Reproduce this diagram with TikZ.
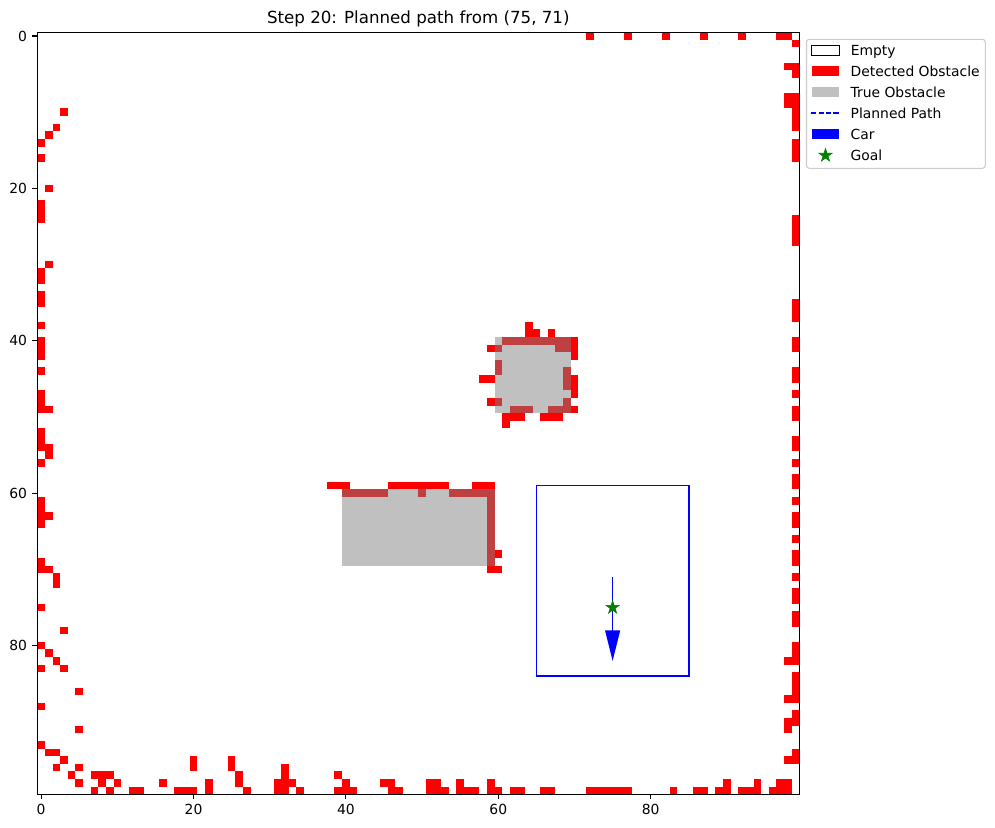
\documentclass[tikz,border=0pt]{standalone}
\usepackage{fontspec}
\setmainfont{DejaVu Sans}
\usepackage{tikz}
\usetikzlibrary{positioning,shapes.geometric}
\definecolor{detected}{HTML}{FF0000}
\definecolor{overlap}{HTML}{BF4040}
\definecolor{trueobs}{HTML}{C0C0C0}
\definecolor{carblue}{HTML}{0000FF}
\definecolor{goalgreen}{HTML}{008000}
\definecolor{legframe}{HTML}{CCCCCC}

\begin{document}
\begin{tikzpicture}[x=0.72pt, y=-0.72pt,
  ticklabel/.style={font=\fontsize{10}{12}\selectfont, inner sep=0pt},
  leg/.style={font=\fontsize{10}{12}\selectfont, inner sep=0pt, text height=7.3pt, text depth=0pt},
  handle/.style={minimum width=20pt, minimum height=7pt, inner sep=0pt},
  goalstar/.style={star, star points=5, star point ratio=2.618, fill=goalgreen,
    draw=goalgreen, inner sep=0pt, minimum size=10pt}]
  \useasboundingbox (0,0) rectangle (995,827);

  % Grid, one unit per cell
  \begin{scope}[shift={(29.6pt,-25.93pt)}, x=5.4864pt, y=-5.4864pt]
    % True obstacles
    \fill[trueobs] (59.5,39.5) rectangle (69.5,49.5);
    \fill[trueobs] (39.5,59.5) rectangle (59.5,69.5);

    % Detected obstacles, left and bottom border
    \foreach \c/\r in {3/10,2/12,1/13,0/14,0/16,1/20,0/22,0/23,0/24,1/30,0/31,0/32,
        0/34,0/35,0/38,0/40,0/41,0/42,0/44,0/47,0/48,0/49,1/49,0/52,0/53,0/54,1/54,
        1/55,0/56,0/61,0/62,0/63,1/63,0/64,0/69,0/70,1/70,2/71,2/72,0/75,3/78,0/80,
        1/81,2/82,0/83,3/83,5/86,0/88,5/91,0/93,1/94,2/94,3/95,2/96,5/96,4/97,7/97,
        8/97,9/97,5/98,8/98,10/98,7/99,9/99,12/99,13/99,16/98,18/99,19/99,20/99,
        20/95,20/96,22/98,22/99,25/95,25/96,26/97,26/98,27/99,32/96,32/97,31/98,
        32/98,33/98,31/99,32/99,34/99,39/97,40/98,39/99,40/99,41/99,45/98,46/98,
        46/99,47/99,51/98,52/98,51/99,52/99,53/99,55/98,55/99,56/99,57/99,59/98,
        59/99,60/99,62/99,63/99,66/99,67/99,72/99,73/99,74/99,75/99,76/99,77/99,
        83/99,86/99,87/99,89/99,90/99,90/98,92/99,93/99,94/99,94/98,96/99,97/99,
        98/99,97/98,98/98}
      \fill[detected] (\c-0.5,\r-0.5) rectangle ++(1,1);

    % Detected obstacles, right and top border
    \foreach \c/\r in {98/95,99/95,99/94,99/89,99/90,98/90,98/91,99/84,99/85,99/86,
        99/87,98/87,99/80,99/81,99/82,98/82,99/76,99/77,99/73,99/74,99/71,99/68,
        99/69,99/66,99/63,99/64,99/61,99/58,99/59,99/56,99/53,99/54,99/49,99/50,
        99/47,99/44,99/45,99/40,99/41,99/35,99/36,99/37,99/24,99/25,99/26,99/27,
        99/14,99/15,99/16,99/8,99/9,99/10,99/11,99/12,98/8,98/9,98/4,99/4,99/5,
        99/1,97/0,98/0,72/0,77/0,82/0,87/0,92/0}
      \fill[detected] (\c-0.5,\r-0.5) rectangle ++(1,1);

    % Detected obstacles around the blocks
    \foreach \c/\r in {64/38,64/39,65/39,67/39,70/40,70/41,70/42,59/41,58/45,59/45,
        70/45,70/46,70/47,59/48,70/49,61/50,62/50,63/50,66/50,67/50,68/50,61/51,
        38/59,39/59,40/59,46/59,47/59,48/59,49/59,50/59,51/59,52/59,53/59,57/59,
        58/59,59/59,60/68,59/70,60/70}
      \fill[detected] (\c-0.5,\r-0.5) rectangle ++(1,1);

    % Detected cells on true obstacles
    \foreach \c/\r in {61/40,62/40,63/40,64/40,65/40,66/40,67/40,68/40,69/40,60/41,
        68/41,69/41,60/43,60/44,69/44,69/45,69/46,60/48,69/48,62/49,63/49,64/49,
        67/49,68/49,69/49,40/60,41/60,42/60,43/60,44/60,45/60,50/60,54/60,55/60,
        56/60,57/60,58/60,59/60,59/61,59/62,59/63,59/64,59/65,59/66,59/67,59/68,59/69}
      \fill[overlap] (\c-0.5,\r-0.5) rectangle ++(1,1);

    % Planned region
    \draw[carblue, line width=1pt] (65,59) rectangle (85,84);

    % Car
    \draw[carblue, line width=1pt] (75,71) -- (75,78.2);
    \fill[carblue] (74,78) -- (76,78) -- (75,82) -- cycle;

    % Goal
    \node[goalstar] (goal) at (75,75) {};

    % Axes
    \draw[line width=0.8pt] (-0.5,-0.5) rectangle (99.5,99.5);
    \foreach \t in {0,20,40,60,80} {
      \draw[line width=0.8pt] (\t,99.5) -- ++(0,0.638)
        node[ticklabel, below=3.5pt] (xlab\t) {\t};
      \draw[line width=0.8pt] (-0.5,\t) -- ++(-0.638,0)
        node[ticklabel, left=3.5pt] (ylab\t) {\t};
    }
  \end{scope}

  % Title
  \node[font=\fontsize{12}{14.4}\selectfont, anchor=base] (title) at (418.3,23.9)
    {Step 20: Planned path from (75, 71)};

  % Legend
  \draw[legframe, fill=white, line width=0.8pt, rounded corners=2pt]
    (806.5,39.3) rectangle (985.3,168.3);
  \node[handle, draw=black, fill=white, line width=0.7pt] (hempty) at (825.5,50.8) {};
  \node[handle, fill=detected] (hdetected) at (825.5,71.2) {};
  \node[handle, fill=trueobs] (htrue) at (825.5,92.0) {};
  \node[handle] (hpath) at (825.5,113.0) {};
  \draw[carblue, line width=1pt, dash pattern=on 3.7pt off 1.6pt]
    (hpath.west) -- (hpath.east);
  \node[handle, fill=carblue] (hcar) at (825.5,134.2) {};
  \node[handle] (hgoal) at (825.5,155.4) {};
  \node[goalstar] (lgoal) at (hgoal) {};

  \node[leg, right=7.7pt of hempty] (lempty) {Empty};
  \node[leg, right=7.7pt of hdetected] (ldetected) {Detected Obstacle};
  \node[leg, right=7.7pt of htrue] (ltrue) {True Obstacle};
  \node[leg, right=7.7pt of hpath] (lpath) {Planned Path};
  \node[leg, right=7.7pt of hcar] (lcar) {Car};
  \node[leg, right=7.7pt of hgoal] (lgoaltext) {Goal};
\end{tikzpicture}
\end{document}
